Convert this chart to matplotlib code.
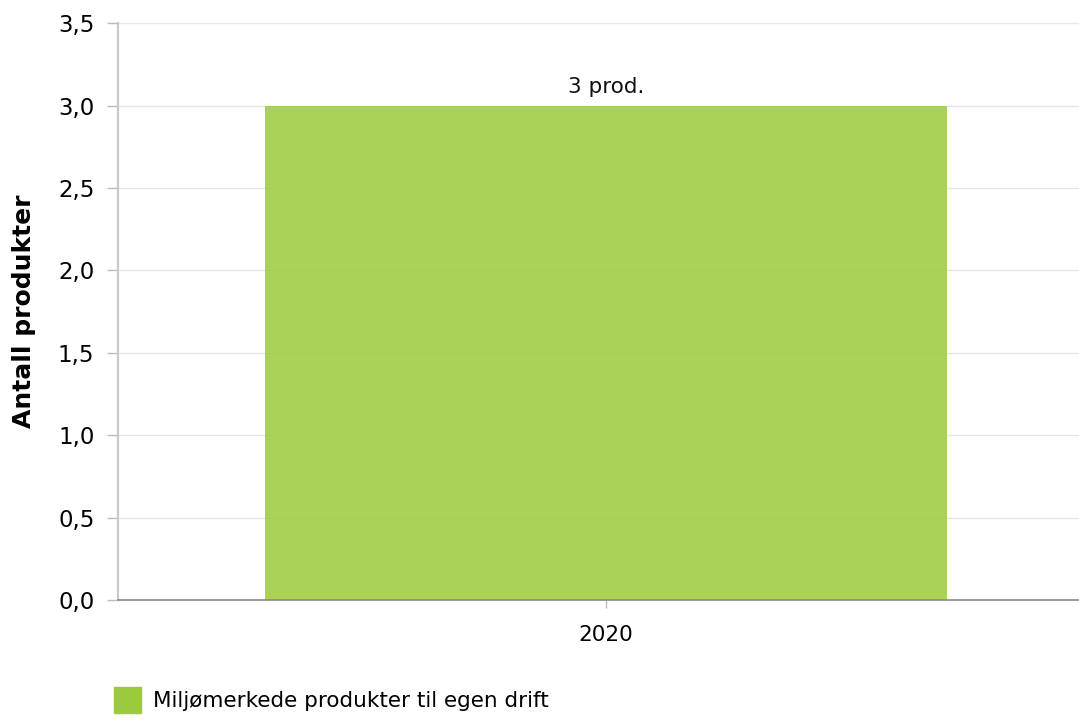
import matplotlib
matplotlib.use('Agg')
from matplotlib import pyplot as plt
from matplotlib.patches import Patch

categories = ['2020']
values = [3]
bar_labels = ['3 prod.']
series_name = 'Miljømerkede produkter til egen drift'
y_ticks = [0, 0.5, 1.0, 1.5, 2.0, 2.5, 3.0, 3.5]

plt.rcParams['font.family'] = ['DejaVu Sans']

fig = plt.figure(figsize=(10.79, 7.22), dpi=100)
ax = fig.add_axes([0.1094, 0.169, 0.8906, 0.799])

bar_color = '#9bcb3c'
bars = ax.bar(range(len(categories)), values, width=0.71, color=bar_color, alpha=0.85, zorder=2)
for b, lab in zip(bars, bar_labels):
    ax.text(b.get_x() + b.get_width() / 2, b.get_height() + 0.05, lab,
            ha='center', va='bottom', fontsize=15.5, color='#111111')

ax.set_xlim(-0.508, 0.492)
ax.set_ylim(0, 3.5)
ax.set_yticks(y_ticks)
ax.set_yticklabels([('%.1f' % t).replace('.', ',') for t in y_ticks], fontsize=16.5)
ax.set_xticks(range(len(categories)))
ax.set_xticklabels(categories, fontsize=15.5)
ax.tick_params(axis='y', length=8, color='#bbbbbb', width=1, pad=9)
ax.tick_params(axis='x', length=6, color='#bbbbbb', width=1, pad=12)

ax.yaxis.grid(True, color='#e6e6e6', linewidth=1, zorder=0)
ax.set_axisbelow(True)
for s in ['top', 'right']:
    ax.spines[s].set_visible(False)
ax.spines['left'].set_color('#c8c8c8')
ax.spines['left'].set_linewidth(1.5)
ax.spines['bottom'].set_color('#888888')
ax.spines['bottom'].set_linewidth(1.2)

ax.set_ylabel('Antall produkter', fontsize=18, fontweight='bold', labelpad=16)

fig.legend(handles=[Patch(color=bar_color, label=series_name)],
           loc='lower left', bbox_to_anchor=(0.088, -0.014), frameon=False,
           fontsize=15.5, handlelength=1.25, handleheight=1.45, handletextpad=0.55)

fig.savefig('out.png', dpi=100)
